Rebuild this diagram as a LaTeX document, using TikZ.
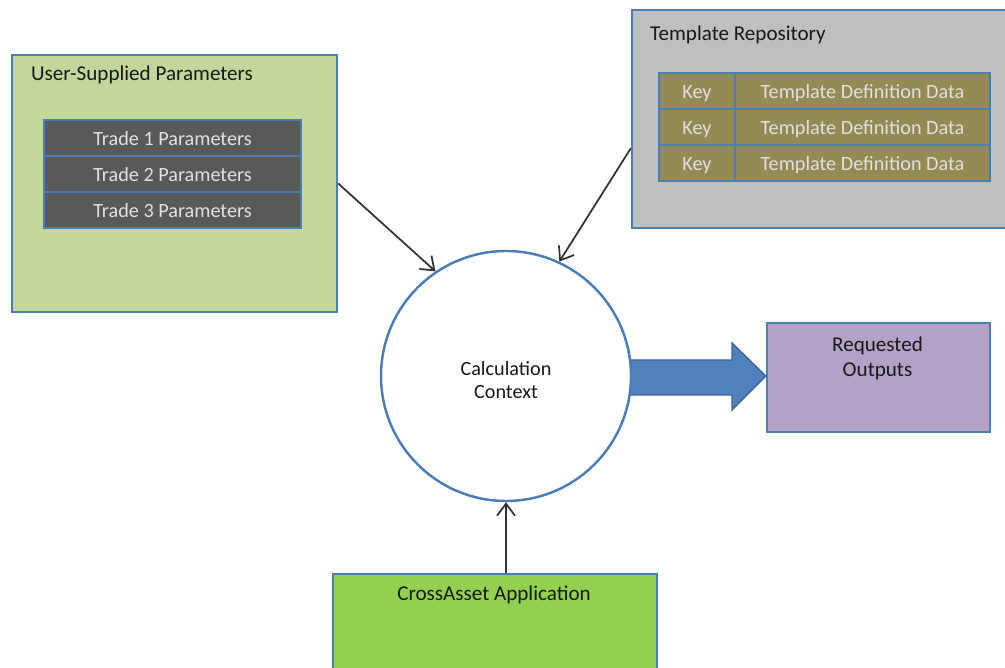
\documentclass[tikz,border=0pt]{standalone}
\usepackage{fontspec}
\setmainfont{Carlito}
\usetikzlibrary{calc,arrows.meta}
\definecolor{edge}{HTML}{4A7EBB}
\definecolor{paleg}{HTML}{C3D69B}
\definecolor{repog}{HTML}{BFBFBF}
\definecolor{rowg}{HTML}{595959}
\definecolor{olive}{HTML}{948A54}
\definecolor{lilac}{HTML}{B3A2C7}
\definecolor{limeg}{HTML}{92D050}
\definecolor{arrowb}{HTML}{4F81BD}
\begin{document}
\begin{tikzpicture}[every node/.style={font=\fontsize{11.5}{13}\selectfont},
  panel/.style={draw=edge,line width=1.4pt,inner sep=0pt},
  row/.style={draw=edge,line width=1.2pt,minimum height=0.72cm,text=white!88!black,inner sep=0pt,text depth=0.3ex,text height=2.0ex},
  title/.style={anchor=west,text=black!90,font=\fontsize{12}{14}\selectfont},
  link/.style={-{Straight Barb[length=2.4mm,width=3.6mm]},line width=1pt,black!80}]
\useasboundingbox (0,0) rectangle (20.1,13.34);
% containers
\node[panel,fill=paleg,minimum width=6.5cm,minimum height=5.14cm] (user) at (3.49,9.67) {};
\node[title] (usert) at (0.50,11.84) {User-Supplied Parameters};
\node[row,fill=rowg,minimum width=5.14cm] (tr1) at (3.45,10.58) {Trade 1 Parameters};
\node[row,fill=rowg,minimum width=5.14cm] (tr2) at (3.45,9.86) {Trade 2 Parameters};
\node[row,fill=rowg,minimum width=5.14cm] (tr3) at (3.45,9.14) {Trade 3 Parameters};
\node[panel,fill=repog,minimum width=7.9cm,minimum height=4.36cm] (repo) at (16.59,10.96) {};
\node[title] (repot) at (12.88,12.64) {Template Repository};
\foreach \i/\y in {1/11.52,2/10.80,3/10.08} {
  \node[row,fill=olive,minimum width=1.52cm] (key\i) at (13.94,\y) {Key};
  \node[row,fill=olive,minimum width=5.10cm] (tdd\i) at (17.25,\y) {Template Definition Data};
}
\node[panel,fill=lilac,minimum width=4.46cm,minimum height=2.18cm,anchor=north] (outp) at (17.57,6.90) {};
\node[align=center,text=black!90,font=\fontsize{12}{14.5}\selectfont] (outpt) at (17.55,6.17) {Requested\\Outputs};
\node[panel,fill=limeg,minimum width=6.48cm,minimum height=2.4cm,anchor=north] (cross) at (9.90,1.88) {};
\node[text=black!90,font=\fontsize{12}{14}\selectfont] (crosst) at (9.88,1.44) {CrossAsset Application};
% output arrow
\coordinate (tip) at (outp.west |- 0,5.82);
\draw[fill=arrowb,draw=edge!80!black,line width=0.8pt,line join=miter]
  (12.4,6.14) -- (14.64,6.14) -- (14.64,6.48) -- (tip) -- (14.64,5.14) -- (14.64,5.44) -- (12.4,5.44) -- cycle;
\node[circle,draw=edge,line width=1.4pt,fill=white,minimum size=5cm] (ctx) at (10.12,5.82) {};
\node[align=center,text=black!90] (ctxt) at (10.12,5.74) {Calculation\\Context};
% inputs
\coordinate (repoin) at ($(repo.south west)!0.367!(repo.north west)$);
\draw[link] (user.east) -- (ctx.124);
\draw[link] (repoin) -- (ctx.65);
\draw[link] (ctx.south |- cross.north) -- (ctx.south);
\end{tikzpicture}
\end{document}
